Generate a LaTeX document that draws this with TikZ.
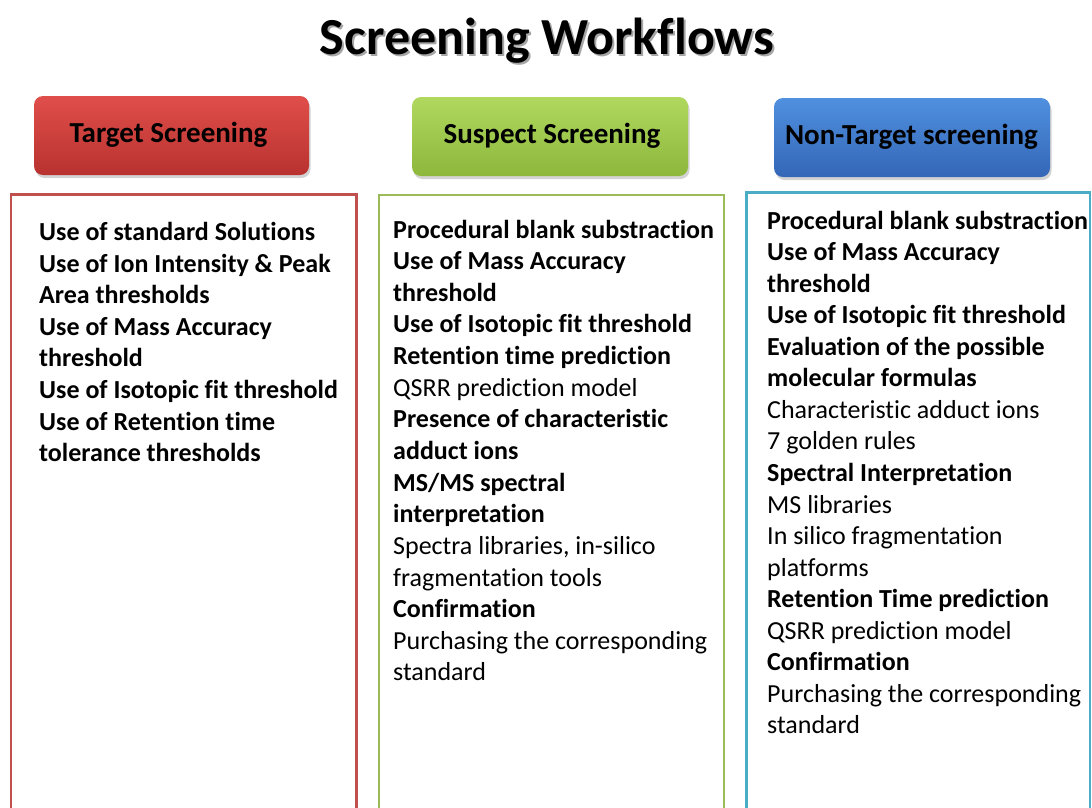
\documentclass[tikz,border=0pt]{standalone}
\usepackage{fontspec}
\setmainfont{Carlito}[Ligatures=NoCommon]
\usetikzlibrary{shadows}

\definecolor{redA}{HTML}{E04E4A}
\definecolor{redB}{HTML}{B8322F}
\definecolor{greenA}{HTML}{B0D85E}
\definecolor{greenB}{HTML}{8DB83C}
\definecolor{blueA}{HTML}{4F90DF}
\definecolor{blueB}{HTML}{3466B6}
\definecolor{redLine}{HTML}{C0504D}
\definecolor{greenLine}{HTML}{9BBB59}
\definecolor{blueLine}{HTML}{4BACC6}

\newcommand{\B}{\bfseries}

\tikzset{
  header/.style={rounded corners=9pt, drop shadow={opacity=0.35, shadow xshift=1.5pt, shadow yshift=-3pt}},
  headtext/.style={anchor=base, font=\fontsize{29}{33}\selectfont\bfseries, inner sep=0pt},
  panel/.style={line width=2.6pt},
  itemline/.style={anchor=base west, inner sep=0pt, font=\fontsize{26}{30}\selectfont},
}

\begin{document}
\begin{tikzpicture}[x=1pt, y=-1pt]
\useasboundingbox (0,0) rectangle (1092,807);

% title with its soft grey shadow
\node[font=\fontsize{52}{56}\selectfont\bfseries, text=black!35, inner sep=0pt, anchor=base] (titleshade) at (549,56) {Screening Workflows};
\node[font=\fontsize{52}{56}\selectfont\bfseries, inner sep=0pt, anchor=base] (title) at (547,54) {Screening Workflows};

% coloured headers
\shade[header, top color=redA, bottom color=redB] (34,96) rectangle (309,175);
\node[headtext] (hT) at (168.5,142.5) {Target Screening};
\shade[header, top color=greenA, bottom color=greenB] (412,97) rectangle (688,176);
\node[headtext] (hS) at (552,143) {Suspect Screening};
\shade[header, top color=blueA, bottom color=blueB] (774,98) rectangle (1050,177);
\node[headtext] (hN) at (911.5,144) {Non-Target screening};

% open-bottomed panels
\draw[panel, redLine] (11,830) -- (11,194.5) -- (356.5,194.5) -- (356.5,830);
\draw[panel, greenLine] (379,830) -- (379,195) -- (724,195) -- (724,830);
\draw[panel, blueLine] (746.5,830) -- (746.5,192.5) -- (1090,192.5) -- (1090,830);

% target screening items
\foreach \t [count=\i from 0] in {
  {\B Use of standard Solutions},
  {\B Use of Ion Intensity \& Peak},
  {\B Area thresholds},
  {\B Use of Mass Accuracy},
  {\B threshold},
  {\B Use of Isotopic fit threshold},
  {\B Use of Retention time},
  {\B tolerance thresholds}}
  \node[itemline] (t\i) at (39,{240.5+31.6*\i}) {\t};

% suspect screening items
\foreach \t [count=\i from 0] in {
  {\B Procedural blank substraction},
  {\B Use of Mass Accuracy},
  {\B threshold},
  {\B Use of Isotopic fit threshold},
  {\B Retention time prediction},
  {QSRR prediction model},
  {\B Presence of characteristic},
  {\B adduct ions},
  {\B MS/MS spectral},
  {\B interpretation},
  {Spectra libraries, in-silico},
  {fragmentation tools},
  {\B Confirmation},
  {Purchasing the corresponding},
  {standard}}
  \node[itemline] (s\i) at (393,{238+31.64*\i}) {\t};

% non-target screening items
\foreach \t [count=\i from 0] in {
  {\B Procedural blank substraction},
  {\B Use of Mass Accuracy},
  {\B threshold},
  {\B Use of Isotopic fit threshold},
  {\B Evaluation of the possible},
  {\B molecular formulas},
  {Characteristic adduct ions},
  {7 golden rules},
  {\B Spectral Interpretation},
  {MS libraries},
  {In silico fragmentation},
  {platforms},
  {\B Retention Time prediction},
  {QSRR prediction model},
  {\B Confirmation},
  {Purchasing the corresponding},
  {standard}}
  \node[itemline] (n\i) at (767,{229+31.56*\i}) {\t};
\end{tikzpicture}
\end{document}
